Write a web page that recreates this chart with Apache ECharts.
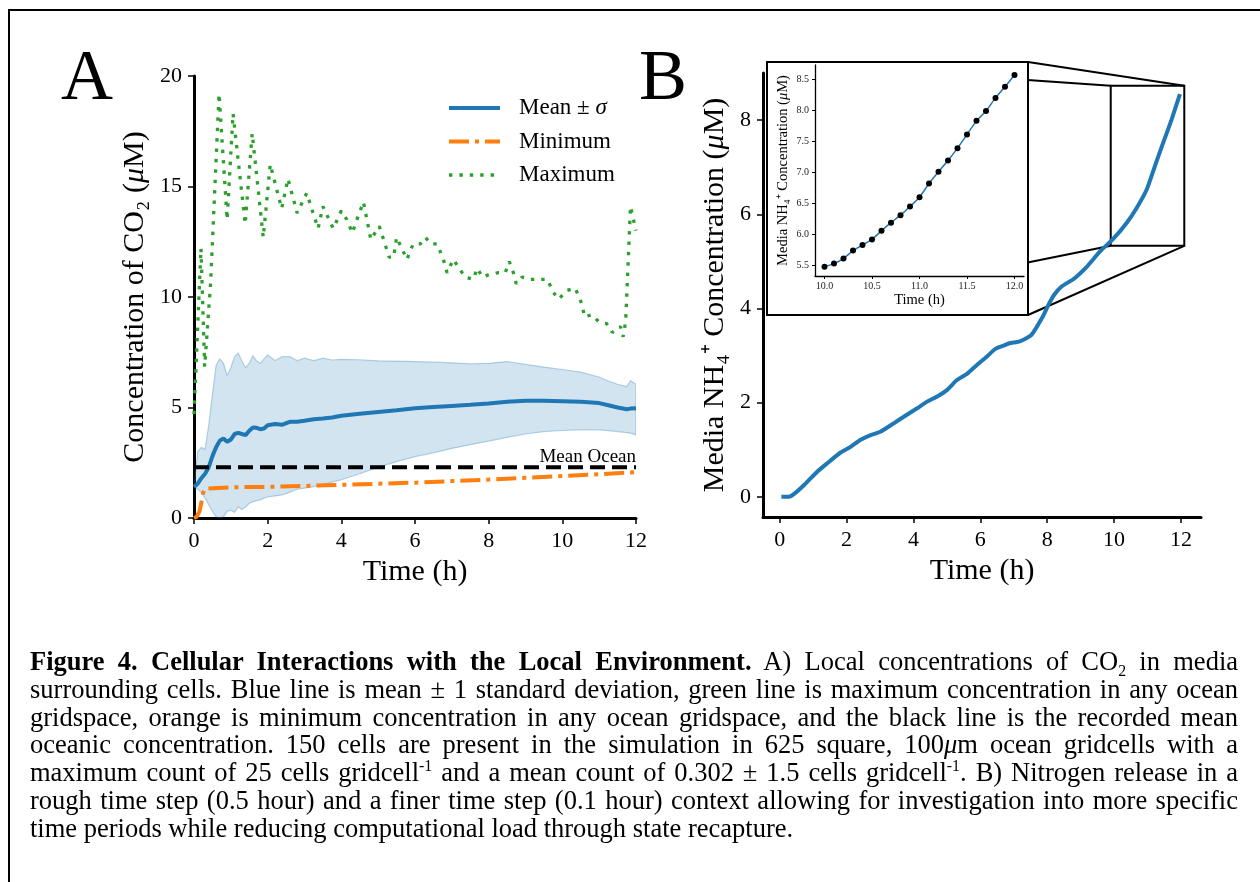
<!DOCTYPE html>
<html>
<head>
<meta charset="utf-8">
<title>Figure 4</title>
<script src="https://cdn.jsdelivr.net/npm/echarts@6/dist/echarts.min.js"></script>
<style>
  html, body { margin: 0; padding: 0; background: #fff; }
  #wrap { position: relative; width: 1260px; height: 882px; overflow: hidden; }
  #fig { width: 1260px; height: 882px; }
  #caption {
    position: absolute; left: 30px; top: 648px; width: 1208px;
    font-family: 'Liberation Serif', 'Times New Roman', serif;
    font-size: 26.5px; line-height: 27.8px; color: #000;
  }
  #caption .ln { text-align: justify; text-align-last: justify; white-space: nowrap; }
  #caption .ln.last { text-align-last: left; }
  #caption sub, #caption sup { font-size: 0.6em; line-height: 0; }
</style>
</head>
<body>
<div id="wrap">
  <div id="fig"></div>
  <div id="caption">
    <div class="ln"><b>Figure 4. Cellular Interactions with the Local Environment.</b> A) Local concentrations of CO<sub>2</sub> in media</div>
    <div class="ln">surrounding cells. Blue line is mean ± 1 standard deviation, green line is maximum concentration in any ocean</div>
    <div class="ln">gridspace, orange is minimum concentration in any ocean gridspace, and the black line is the recorded mean</div>
    <div class="ln">oceanic concentration. 150 cells are present in the simulation in 625 square, 100<i>μ</i>m ocean gridcells with a</div>
    <div class="ln">maximum count of 25 cells gridcell<sup>-1</sup> and a mean count of 0.302 ± 1.5 cells gridcell<sup>-1</sup>. B) Nitrogen release in a</div>
    <div class="ln">rough time step (0.5 hour) and a finer time step (0.1 hour) context allowing for investigation into more specific</div>
    <div class="ln last">time periods while reducing computational load through state recapture.</div>
  </div>
</div>
<script>
  // panel A - CO2 around the cells (uM)
  const timeA = [0, 0.1, 0.2, 0.3, 0.4, 0.5, 0.6, 0.7, 0.8, 0.9, 1.0, 1.1, 1.2, 1.3, 1.4, 1.5, 1.6, 1.7, 1.8, 1.9,
    2.0, 2.2, 2.4, 2.6, 2.8, 3.0, 3.25, 3.5, 3.75, 4.0, 4.5, 5.0, 5.5, 6.0, 6.5, 7.0, 7.5, 8.0, 8.5, 9.0,
    9.5, 10.0, 10.5, 11.0, 11.25, 11.5, 11.75, 11.85, 12.0]
  const meanA = [1.4, 1.55, 1.8, 2.0, 2.3, 2.8, 3.2, 3.5, 3.6, 3.45, 3.55, 3.8, 3.85, 3.8, 3.75, 3.95, 4.1, 4.08, 4.02, 4.05,
    4.2, 4.25, 4.22, 4.35, 4.36, 4.4, 4.47, 4.5, 4.55, 4.63, 4.72, 4.8, 4.88, 4.97, 5.02, 5.07, 5.12, 5.18, 5.26, 5.3,
    5.3, 5.28, 5.26, 5.2, 5.1, 5.0, 4.92, 4.95, 4.97]
  const upperA = [1.4, 3.0, 3.2, 3.1, 4.2, 5.6, 6.9, 7.2, 7.0, 6.45, 6.8, 7.3, 7.46, 7.1, 6.8, 7.0, 7.34, 7.1, 7.0, 7.2,
    7.38, 7.12, 7.3, 7.3, 7.12, 7.23, 7.12, 7.23, 7.15, 7.18, 7.16, 7.11, 7.1, 7.08, 7.05, 7.02, 6.98, 7.0, 7.08, 6.95,
    6.83, 6.72, 6.6, 6.38, 6.2, 6.05, 5.95, 6.22, 6.05]
  const lowerA = [1.4, 1.3, 1.15, 0.9, 0.6, 0.3, 0.05, 0.0, 0.05, 0.3, 0.35, 0.25, 0.5, 0.38, 0.5, 0.66, 0.74, 0.78, 0.82, 0.9,
    0.95, 1.0, 1.05, 1.17, 1.3, 1.35, 1.42, 1.52, 1.62, 1.73, 2.0, 2.3, 2.55, 2.78, 2.95, 3.15, 3.32, 3.48, 3.65, 3.8,
    3.91, 3.96, 3.99, 3.99, 3.95, 3.91, 3.86, 3.84, 3.76]

  const minTime = [0, 0.07, 0.15, 0.2, 0.25, 0.3, 1, 2, 3, 4, 5, 6, 7, 8, 9, 10, 11, 12]
  const minVals = [0, 0.05, 0.3, 0.7, 1.15, 1.33, 1.39, 1.41, 1.45, 1.5, 1.55, 1.6, 1.67, 1.74, 1.82, 1.9, 1.98, 2.08]

  const maxTime = [0, 0.19, 0.29, 0.45, 0.68, 0.9, 1.06, 1.39, 1.58, 1.88, 2.07, 2.38, 2.55, 2.8, 3.06, 3.37, 3.5, 3.78,
    4.0, 4.15, 4.3, 4.4, 4.6, 4.8, 5.03, 5.3, 5.42, 5.5, 5.78, 5.95, 6.14, 6.28, 6.44, 6.6, 6.77, 6.87, 7.04, 7.36,
    7.58, 7.69, 7.83, 7.99, 8.26, 8.45, 8.56, 8.67, 8.75, 8.91, 9.13, 9.35, 9.59, 9.76, 9.9, 10.13, 10.35, 10.54,
    10.6, 10.8, 10.98, 11.2, 11.36, 11.58, 11.65, 11.72, 11.85, 12.0]
  const maxVals = [4.7, 12.2, 6.85, 10.6, 19.2, 13.5, 18.3, 13.3, 17.4, 12.7, 16.0, 14.0, 15.35, 13.8, 14.7, 13.1, 14.1, 13.1,
    13.9, 13.5, 12.9, 13.4, 14.3, 12.6, 13.2, 11.8, 11.8, 12.7, 11.7, 12.4, 12.4, 12.7, 12.4, 12.4, 11.7, 11.1, 11.7, 10.9,
    10.8, 11.3, 10.9, 11.0, 11.1, 11.1, 11.6, 11.1, 10.6, 10.9, 10.8, 10.8, 10.8, 10.2, 9.9, 10.3, 10.4, 9.65,
    9.1, 9.2, 8.9, 8.8, 8.4, 8.66, 8.2, 8.9, 14.1, 13.0]

  const meanOcean = 2.3

  // panel B - media NH4+ (uM), rough step and the 0.1 h inset
  const timeB = [0.05, 0.28, 0.43, 0.73, 1.12, 1.42, 1.82, 2.12, 2.42, 2.72, 3.01, 3.41, 3.71, 4.11, 4.41, 4.71, 5.01,
    5.3, 5.6, 5.9, 6.2, 6.45, 6.7, 6.87, 7.18, 7.53, 7.87, 8.04, 8.21, 8.44, 8.78, 9.19, 9.58, 9.98, 10.38, 10.68,
    10.98, 11.22, 11.47, 11.72, 11.97]
  const nh4B = [0, 0, 0.06, 0.25, 0.53, 0.71, 0.94, 1.06, 1.21, 1.31, 1.38, 1.56, 1.7, 1.88, 2.02, 2.13, 2.27,
    2.48, 2.61, 2.8, 2.98, 3.14, 3.21, 3.26, 3.3, 3.44, 3.83, 4.08, 4.29, 4.47, 4.62, 4.89, 5.21, 5.48, 5.82, 6.14,
    6.53, 7.02, 7.52, 8.01, 8.55]

  const timeInset = [10.0, 10.1, 10.2, 10.3, 10.4, 10.5, 10.6, 10.7, 10.8, 10.9, 11.0, 11.1, 11.2, 11.3, 11.4, 11.5,
    11.6, 11.7, 11.8, 11.9, 12.0]
  const nh4Inset = [5.48, 5.53, 5.61, 5.74, 5.83, 5.92, 6.06, 6.19, 6.31, 6.45, 6.6, 6.82, 7.01, 7.19, 7.39, 7.61,
    7.83, 7.99, 8.2, 8.38, 8.57]

  const ticksB_x = [0, 2, 4, 6, 8, 10, 12]
  const ticksB_y = [0, 2, 4, 6, 8]
  const ticksInset_x = [10, 10.5, 11, 11.5, 12]
  const ticksInset_y = [5.5, 6, 6.5, 7, 7.5, 8, 8.5]

  const FONT = "'Liberation Serif', 'Times New Roman', serif"
  const BLUE = '#1f77b4'
  const ORANGE = '#ff7f0e'
  const GREEN = '#2ca02c'
  const EDGE = 'rgba(31,119,180,0.3)'

  const zip = (xs, ys) => xs.map((x, i) => [x, ys[i]])

  // shared look of the axes (thin = inset)
  function axis(extra, thin) {
    return Object.assign({
      type: 'value',
      splitLine: {show: false},
      axisLine: {show: true, onZero: false, lineStyle: {color: '#000', width: thin ? 1.3 : 3}},
      axisTick: {show: true, length: thin ? 3 : 6, lineStyle: {color: '#000', width: thin ? 1 : 1.5}},
      axisLabel: {color: thin ? '#222' : '#000', fontFamily: FONT, fontSize: thin ? 10 : 22, margin: thin ? 6 : 12},
      nameLocation: 'middle',
      nameTextStyle: {
        color: '#000', fontFamily: FONT, fontSize: thin ? 14.5 : 30,
        rich: {i: {fontStyle: 'italic', fontFamily: FONT, fontSize: thin ? 14.5 : 30, color: '#000'}}
      }
    }, extra)
  }

  // mean +/- sigma band as one polygon (upper edge out, lower edge back)
  function renderBand(params, api) {
    if (params.dataIndexInside !== 0) return null
    const n = params.dataInsideLength
    const hi = [], lo = []
    for (let j = 0; j < n; j++) {
      hi.push(api.coord([api.value(0, j), api.value(2, j)]))
      lo.push(api.coord([api.value(0, j), api.value(1, j)]))
    }
    return {
      type: 'polygon',
      shape: {points: hi.concat(lo.reverse())},
      style: {fill: 'rgba(31,119,180,0.2)', stroke: EDGE, lineWidth: 1.2}
    }
  }

  const chart = echarts.init(document.getElementById('fig'), null, {renderer: 'canvas'})

  const option = {
    animation: false,
    backgroundColor: '#fff',
    grid: [
      {left: 194, top: 76, width: 442, height: 442, containLabel: false, outerBoundsMode: 'none'},
      {left: 763, top: 73, width: 438, height: 444, containLabel: false, outerBoundsMode: 'none'},
      {left: 815, top: 65, width: 209, height: 211, containLabel: false, outerBoundsMode: 'none'}
    ],
    xAxis: [
      axis({gridIndex: 0, min: 0, max: 12, interval: 2, name: 'Time (h)', nameGap: 39}),
      axis({
        gridIndex: 1, min: -0.5, max: 12.6, name: 'Time (h)', nameGap: 38,
        axisLabel: {color: '#000', fontFamily: FONT, fontSize: 22, margin: 12, customValues: ticksB_x},
        axisTick: {show: true, length: 6, lineStyle: {color: '#000', width: 1.5}, customValues: ticksB_x}
      }),
      axis({
        gridIndex: 2, min: 9.9, max: 12.1, name: 'Time (h)', nameGap: 17,
        axisLabel: {color: '#222', fontFamily: FONT, fontSize: 10, margin: 5, customValues: ticksInset_x,
          formatter: v => v.toFixed(1)},
        axisTick: {show: true, length: 3, lineStyle: {color: '#000', width: 1}, customValues: ticksInset_x}
      }, true)
    ],
    yAxis: [
      axis({gridIndex: 0, min: 0, max: 20, interval: 5, name: 'Concentration of CO₂ ({i|μ}M)', nameRotate: 90, nameGap: 44}),
      axis({
        gridIndex: 1, min: -0.43, max: 9.0, name: 'Media NH₄⁺ Concentration ({i|μ}M)', nameRotate: 90, nameGap: 33,
        axisLabel: {color: '#000', fontFamily: FONT, fontSize: 22, margin: 12, customValues: ticksB_y},
        axisTick: {show: true, length: 6, lineStyle: {color: '#000', width: 1.5}, customValues: ticksB_y}
      }),
      axis({
        gridIndex: 2, min: 5.33, max: 8.73, name: 'Media NH₄⁺ Concentration ({i|μ}M)', nameRotate: 90, nameGap: 24,
        axisLabel: {color: '#222', fontFamily: FONT, fontSize: 10, margin: 6, customValues: ticksInset_y,
          formatter: v => v.toFixed(1)},
        axisTick: {show: true, length: 3, lineStyle: {color: '#000', width: 1}, customValues: ticksInset_y}
      }, true)
    ],
    legend: {
      data: [
        {name: 'Mean ± σ', lineStyle: {width: 4}},
        {name: 'Minimum', lineStyle: {width: 4}},
        {name: 'Maximum', lineStyle: {width: 3.3}}
      ],
      orient: 'vertical',
      left: 447,
      top: 95,
      padding: 0,
      itemWidth: 51,
      itemHeight: 14,
      itemGap: 7.5,
      selectedMode: false,
      itemStyle: {opacity: 0},
      formatter: name => name === 'Mean ± σ' ? 'Mean ± {i|σ}' : name,
      textStyle: {
        color: '#000', fontFamily: FONT, fontSize: 23, lineHeight: 26, padding: [0, 0, 0, 14],
        rich: {i: {fontStyle: 'italic', fontFamily: FONT, fontSize: 23, color: '#000'}}
      }
    },
    series: [
      {
        name: 'band', type: 'custom', xAxisIndex: 0, yAxisIndex: 0, silent: true, z: 1, clip: true,
        data: timeA.map((t, i) => [t, lowerA[i], upperA[i]]),
        encode: {x: 0, y: [1, 2]},
        renderItem: renderBand
      },
      {
        name: 'Mean ± σ', type: 'line', xAxisIndex: 0, yAxisIndex: 0,
        data: zip(timeA, meanA), symbol: 'none', color: BLUE,
        lineStyle: {color: BLUE, width: 4}
      },
      {
        name: 'Minimum', type: 'line', xAxisIndex: 0, yAxisIndex: 0,
        data: zip(minTime, minVals), symbol: 'none', color: ORANGE,
        lineStyle: {color: ORANGE, width: 4, type: [20, 6, 4, 6]}
      },
      {
        name: 'Maximum', type: 'line', xAxisIndex: 0, yAxisIndex: 0,
        data: zip(maxTime, maxVals), symbol: 'none', color: GREEN,
        lineStyle: {color: GREEN, width: 3.3, type: [3.4, 7]}
      },
      {
        name: 'Mean Ocean', type: 'line', xAxisIndex: 0, yAxisIndex: 0,
        data: [[0, meanOcean], [12, meanOcean]], symbol: 'none', color: '#000',
        lineStyle: {color: '#000', width: 4, type: [15, 7]},
        endLabel: {
          show: true, formatter: 'Mean Ocean', align: 'right', verticalAlign: 'bottom',
          distance: 0, offset: [0, -1], color: '#000', fontFamily: FONT, fontSize: 19
        }
      },
      {
        name: 'NH4', type: 'line', xAxisIndex: 1, yAxisIndex: 1,
        data: zip(timeB, nh4B), symbol: 'none', smooth: 0.2, color: BLUE,
        lineStyle: {color: BLUE, width: 4}
      },
      {
        name: 'NH4 fine', type: 'line', xAxisIndex: 2, yAxisIndex: 2,
        data: zip(timeInset, nh4Inset), symbol: 'circle', symbolSize: 6, smooth: 0.2,
        lineStyle: {color: BLUE, width: 1.5},
        itemStyle: {color: '#000', borderWidth: 0}, z: 5
      }
    ]
  }

  chart.setOption(option)

  // zoom box in B is the inset's own range, connectors go to the inset frame corners
  const frame = {x: 767, y: 62, w: 261, h: 253}
  const xr = [option.xAxis[2].min, option.xAxis[2].max]
  const yr = [option.yAxis[2].min, option.yAxis[2].max]
  const px = (x, y) => chart.convertToPixel({gridIndex: 1}, [x, y])
  const bTL = px(xr[0], yr[1]), bTR = px(xr[1], yr[1]), bBL = px(xr[0], yr[0]), bBR = px(xr[1], yr[0])
  const fTL = [frame.x, frame.y], fTR = [frame.x + frame.w, frame.y]
  const fBL = [frame.x, frame.y + frame.h], fBR = [frame.x + frame.w, frame.y + frame.h]
  const seg = (a, b) => ({
    type: 'line', z: -2, silent: true,
    shape: {x1: a[0], y1: a[1], x2: b[0], y2: b[1]},
    style: {stroke: '#000', lineWidth: 2}
  })

  chart.setOption({
    graphic: [
      {type: 'rect', z: -3, silent: true, shape: {x: 9, y: 10, width: 1300, height: 1000},
        style: {fill: null, stroke: '#000', lineWidth: 2}},
      {type: 'text', left: 61, top: 44, silent: true,
        style: {text: 'A', fontFamily: FONT, fontSize: 72, fill: '#000'}},
      {type: 'text', left: 639, top: 44, silent: true,
        style: {text: 'B', fontFamily: FONT, fontSize: 72, fill: '#000'}},
      seg(bTL, fTL), seg(bTR, fTR), seg(bBL, fBL), seg(bBR, fBR),
      {type: 'polygon', z: 1, silent: true, shape: {points: [bTL, bTR, bBR, bBL]},
        style: {fill: null, stroke: '#000', lineWidth: 2}},
      {type: 'rect', z: -1, silent: true, shape: {x: frame.x, y: frame.y, width: frame.w, height: frame.h},
        style: {fill: '#fff', stroke: '#000', lineWidth: 2}}
    ]
  })
</script>
</body>
</html>
